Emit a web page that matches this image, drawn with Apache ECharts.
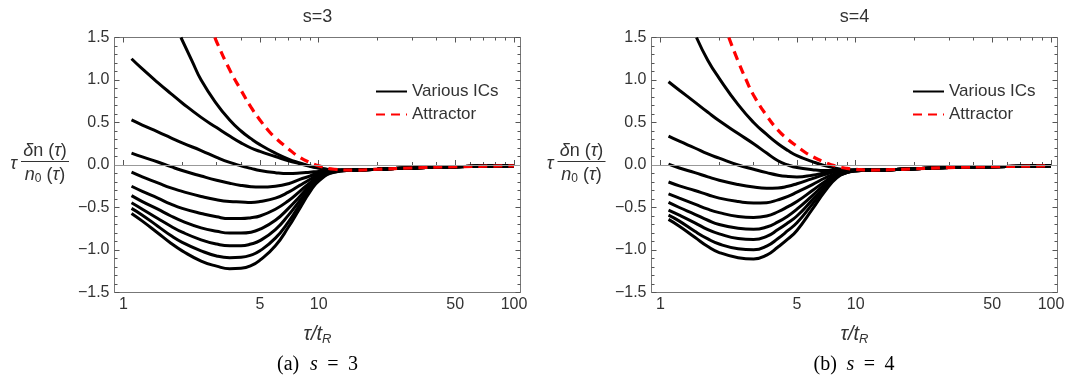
<!DOCTYPE html>
<html>
<head>
<meta charset="utf-8">
<script src="https://cdn.jsdelivr.net/npm/echarts@6/dist/echarts.min.js"></script>
<style>
  html, body { margin: 0; padding: 0; background: #fff; }
  #chart { width: 1073px; height: 379px; }
</style>
</head>
<body>
<div id="chart"></div>
<script>
// tau / t_R sample points shared by the IC curves
const tau = [1.1, 1.25, 1.5, 1.75, 2, 2.5, 3, 3.5, 4, 4.5, 5, 6, 7, 8, 9, 10, 12, 15, 20, 30, 50, 100];

// s = 3 : initial conditions (top curve enters the frame later, so it has its own tau)
const tauTop3 = [1.97, 2.25, 2.5, 3, 3.5, 4, 4.5, 5, 6, 7, 8, 9, 10, 12, 15, 20, 30, 50, 100];
const icTop3 = [1.5, 1.22, 1.0, 0.72, 0.53, 0.4, 0.31, 0.24, 0.14, 0.07, 0.025, -0.01, -0.035, -0.06, -0.06, -0.05, -0.035, -0.02, -0.01];
const ic3 = [
  [1.25, 1.13, 0.97, 0.84, 0.73, 0.56, 0.44, 0.34, 0.26, 0.2, 0.16, 0.1, 0.05, 0.015, -0.015, -0.035, -0.055, -0.06, -0.05, -0.035, -0.02, -0.01],
  [0.53, 0.47, 0.39, 0.32, 0.26, 0.17, 0.09, 0.03, -0.01, -0.04, -0.065, -0.09, -0.1, -0.095, -0.085, -0.075, -0.065, -0.06, -0.05, -0.035, -0.02, -0.01],
  [0.14, 0.095, 0.035, -0.02, -0.065, -0.13, -0.18, -0.215, -0.24, -0.255, -0.26, -0.25, -0.22, -0.17, -0.13, -0.09, -0.065, -0.06, -0.05, -0.035, -0.02, -0.01],
  [-0.085, -0.14, -0.21, -0.27, -0.31, -0.37, -0.41, -0.43, -0.435, -0.44, -0.43, -0.39, -0.32, -0.24, -0.17, -0.11, -0.07, -0.06, -0.05, -0.035, -0.02, -0.01],
  [-0.25, -0.31, -0.39, -0.46, -0.51, -0.57, -0.61, -0.63, -0.63, -0.62, -0.6, -0.52, -0.42, -0.31, -0.21, -0.13, -0.07, -0.06, -0.05, -0.035, -0.02, -0.01],
  [-0.36, -0.43, -0.52, -0.6, -0.66, -0.74, -0.78, -0.8, -0.8, -0.79, -0.755, -0.65, -0.51, -0.37, -0.24, -0.15, -0.075, -0.06, -0.05, -0.035, -0.02, -0.01],
  [-0.445, -0.52, -0.63, -0.72, -0.79, -0.88, -0.93, -0.95, -0.95, -0.93, -0.89, -0.76, -0.59, -0.42, -0.27, -0.16, -0.078, -0.06, -0.05, -0.035, -0.02, -0.01],
  [-0.51, -0.59, -0.72, -0.83, -0.91, -1.01, -1.07, -1.09, -1.085, -1.06, -1.01, -0.86, -0.67, -0.47, -0.3, -0.175, -0.082, -0.061, -0.05, -0.035, -0.02, -0.01],
  [-0.57, -0.66, -0.8, -0.92, -1.01, -1.13, -1.19, -1.22, -1.215, -1.185, -1.12, -0.95, -0.73, -0.51, -0.32, -0.19, -0.085, -0.062, -0.05, -0.035, -0.02, -0.01]
];
// s = 3 : attractor
const tauAtt3 = [2.94, 3, 3.5, 4, 4.5, 5, 5.5, 6, 7, 8, 9, 10, 12, 15, 20, 30, 50, 100];
const att3 = [1.5, 1.45, 1.12, 0.88, 0.68, 0.53, 0.41, 0.32, 0.19, 0.09, 0.03, -0.01, -0.05, -0.06, -0.05, -0.035, -0.02, -0.01];

// s = 4 : initial conditions
const tauTop4 = [1.53, 1.75, 2, 2.5, 3, 3.5, 4, 4.5, 5, 6, 7, 8, 9, 10, 12, 15, 20, 30, 50, 100];
const icTop4 = [1.5, 1.23, 1.02, 0.71, 0.5, 0.36, 0.25, 0.17, 0.11, 0.04, -0.01, -0.04, -0.055, -0.06, -0.06, -0.055, -0.045, -0.03, -0.02, -0.01];
const ic4 = [
  [0.98, 0.88, 0.74, 0.62, 0.52, 0.37, 0.25, 0.14, 0.05, 0.0, -0.03, -0.055, -0.065, -0.065, -0.065, -0.063, -0.06, -0.055, -0.045, -0.03, -0.02, -0.01],
  [0.34, 0.28, 0.2, 0.13, 0.08, 0.0, -0.05, -0.09, -0.12, -0.135, -0.14, -0.12, -0.09, -0.07, -0.062, -0.06, -0.06, -0.055, -0.045, -0.03, -0.02, -0.01],
  [0.01, -0.035, -0.09, -0.14, -0.18, -0.23, -0.26, -0.273, -0.27, -0.25, -0.22, -0.16, -0.11, -0.075, -0.062, -0.06, -0.06, -0.055, -0.045, -0.03, -0.02, -0.01],
  [-0.2, -0.245, -0.3, -0.35, -0.39, -0.43, -0.447, -0.443, -0.41, -0.37, -0.32, -0.23, -0.15, -0.095, -0.07, -0.062, -0.06, -0.055, -0.045, -0.03, -0.02, -0.01],
  [-0.34, -0.39, -0.46, -0.52, -0.56, -0.605, -0.617, -0.6, -0.55, -0.49, -0.43, -0.3, -0.19, -0.11, -0.075, -0.064, -0.06, -0.055, -0.045, -0.03, -0.02, -0.01],
  [-0.44, -0.5, -0.58, -0.65, -0.7, -0.745, -0.757, -0.73, -0.67, -0.6, -0.52, -0.36, -0.22, -0.12, -0.08, -0.065, -0.06, -0.055, -0.045, -0.03, -0.02, -0.01],
  [-0.53, -0.59, -0.68, -0.76, -0.81, -0.865, -0.877, -0.84, -0.76, -0.68, -0.6, -0.41, -0.25, -0.13, -0.085, -0.067, -0.06, -0.055, -0.045, -0.03, -0.02, -0.01],
  [-0.59, -0.66, -0.78, -0.87, -0.93, -0.985, -0.998, -0.955, -0.865, -0.77, -0.68, -0.46, -0.27, -0.14, -0.09, -0.07, -0.06, -0.055, -0.045, -0.03, -0.02, -0.01],
  [-0.64, -0.72, -0.85, -0.96, -1.03, -1.09, -1.105, -1.06, -0.965, -0.87, -0.77, -0.52, -0.3, -0.15, -0.09, -0.07, -0.06, -0.055, -0.045, -0.03, -0.02, -0.01]
];
// s = 4 : attractor
const tauAtt4 = [2.24, 2.5, 2.75, 3, 3.5, 4, 4.5, 5, 5.5, 6, 7, 8, 9, 10, 12, 15, 20, 30, 50, 100];
const att4 = [1.5, 1.22, 1.0, 0.82, 0.58, 0.41, 0.3, 0.22, 0.15, 0.1, 0.03, -0.015, -0.04, -0.05, -0.06, -0.055, -0.045, -0.03, -0.02, -0.01];

// ticks
const xMajor = [1, 5, 10, 50, 100];
const xMinor = [2, 3, 4, 6, 7, 8, 9, 20, 30, 40, 60, 70, 80, 90];
const panelTitles = ['s=3', 's=4'];
const captionTags = ['(a)', '(b)'];
const captionValues = ['3', '4'];

const SANS = '"Liberation Sans", Arial, sans-serif';
const SERIF = '"Liberation Serif", "Times New Roman", serif';
const INK = '#333';
const TICK = '#555';

const panels = [
  { left: 114.5, top: 37.5, width: 406, height: 255, legendLeft: 375 },
  { left: 651.5, top: 37.5, width: 406, height: 255, legendLeft: 912 }
];

const chart = echarts.init(document.getElementById('chart'));

const xAxis = [];
const yAxis = [];
const series = [];
const graphic = [];

function xAx(p, pos, ticks, len, labels) {
  return {
    gridIndex: p, type: 'log', min: 0.9, max: 108, position: pos,
    axisLine: { show: false }, splitLine: { show: false },
    axisTick: { show: true, inside: true, length: len, customValues: ticks, lineStyle: { color: TICK, width: 1 } },
    axisLabel: labels
      ? { show: true, customValues: ticks, formatter: (v) => String(Math.round(v)), fontSize: 16, color: INK, fontFamily: SANS, margin: 4 }
      : { show: false }
  };
}

function yAx(p, pos, labels) {
  return {
    gridIndex: p, type: 'value', min: -1.5, max: 1.5, interval: 0.5, position: pos,
    axisLine: { show: false }, splitLine: { show: false },
    axisTick: { show: true, inside: true, length: 5, lineStyle: { color: TICK, width: 1 } },
    minorTick: { show: true, splitNumber: 5, length: 3, lineStyle: { color: TICK, width: 1 } },
    axisLabel: labels
      ? { show: true, formatter: (v) => v.toFixed(1).replace('-', '\u2212'), fontSize: 16, color: INK, fontFamily: SANS, margin: 5 }
      : { show: false }
  };
}

function pairs(xs, ys) {
  return xs.map((t, i) => [t, ys[i]]);
}

function icLine(p, xs, ys) {
  return {
    type: 'line', name: 'Various ICs', xAxisIndex: p * 4, yAxisIndex: p * 2,
    data: pairs(xs, ys), symbol: 'none', showSymbol: false, smooth: 0.5,
    lineStyle: { color: '#000', width: 3 }, itemStyle: { color: '#000' },
    silent: true, z: 2
  };
}

const sets = [
  { top: [tauTop3, icTop3], ics: ic3, att: [tauAtt3, att3] },
  { top: [tauTop4, icTop4], ics: ic4, att: [tauAtt4, att4] }
];

panels.forEach((g, p) => {
  xAxis.push(xAx(p, 'bottom', xMajor, 5, true));
  xAxis.push(xAx(p, 'bottom', xMinor, 3, false));
  xAxis.push(xAx(p, 'top', xMajor, 5, false));
  xAxis.push(xAx(p, 'top', xMinor, 3, false));
  yAxis.push(yAx(p, 'left', true));
  yAxis.push(yAx(p, 'right', false));

  const s = sets[p];
  const first = icLine(p, s.top[0], s.top[1]);
  first.markLine = {
    silent: true, symbol: ['none', 'none'], label: { show: false },
    lineStyle: { color: '#999', width: 1, type: 'solid' },
    data: [{ yAxis: 0 }], animation: false
  };
  series.push(first);
  s.ics.forEach((ys) => series.push(icLine(p, tau, ys)));
  series.push({
    type: 'line', name: 'Attractor', xAxisIndex: p * 4, yAxisIndex: p * 2,
    data: pairs(s.att[0], s.att[1]), symbol: 'none', showSymbol: false, smooth: 0.5,
    lineStyle: { color: '#ff0000', width: 3.2, type: [9, 6] }, itemStyle: { color: '#ff0000' },
    silent: true, z: 4
  });

  const cx = g.left + g.width / 2;
  const dx = p * 536.5;

  // panel title
  graphic.push({
    type: 'text', x: cx, y: 17,
    style: { text: panelTitles[p], fill: INK, font: '18px ' + SANS, textAlign: 'center', textVerticalAlign: 'middle', align: 'center', verticalAlign: 'middle' }
  });
  // x axis name  tau / t_R
  graphic.push({
    type: 'text', x: cx, y: 334,
    style: {
      text: '{i|\u03c4/t}{sub|R}', fill: INK, textAlign: 'center', textVerticalAlign: 'middle', align: 'center', verticalAlign: 'middle',
      rich: {
        i: { fontSize: 20, fontStyle: 'italic', fontFamily: SANS, fill: INK },
        sub: { fontSize: 13, fontStyle: 'italic', fontFamily: SANS, fill: INK, padding: [10, 0, 0, 0] }
      }
    }
  });
  // y axis name: tau * delta n(tau) / n0(tau)
  graphic.push({
    type: 'text', x: 13.5 + dx, y: 164,
    style: { text: '\u03c4', fill: INK, font: 'italic 18px ' + SANS, textAlign: 'center', textVerticalAlign: 'middle', align: 'center', verticalAlign: 'middle' }
  });
  graphic.push({
    type: 'text', x: 45 + dx, y: 151,
    style: {
      text: '{i|\u03b4}{r|n (}{i|\u03c4}{r|)}', fill: INK, textAlign: 'center', textVerticalAlign: 'middle', align: 'center', verticalAlign: 'middle',
      rich: {
        i: { fontSize: 18, fontStyle: 'italic', fontFamily: SANS, fill: INK },
        r: { fontSize: 18, fontFamily: SANS, fill: INK }
      }
    }
  });
  graphic.push({
    type: 'line', shape: { x1: 21 + dx, y1: 161.5, x2: 69 + dx, y2: 161.5 },
    style: { stroke: INK, lineWidth: 1.2 }
  });
  graphic.push({
    type: 'text', x: 45 + dx, y: 175,
    style: {
      text: '{i|n}{sub|0}{r| (}{i|\u03c4}{r|)}', fill: INK, textAlign: 'center', textVerticalAlign: 'middle', align: 'center', verticalAlign: 'middle',
      rich: {
        i: { fontSize: 18, fontStyle: 'italic', fontFamily: SANS, fill: INK },
        r: { fontSize: 18, fontFamily: SANS, fill: INK },
        sub: { fontSize: 12, fontFamily: SANS, fill: INK, padding: [8, 0, 0, 0] }
      }
    }
  });
  // caption  (a) s = 3
  const cap = [
    { t: captionTags[p], x: 277 + dx, italic: false, align: 'left' },
    { t: 's', x: 310 + dx, italic: true, align: 'left' },
    { t: '=', x: 333 + dx, italic: false, align: 'center' },
    { t: captionValues[p], x: 348 + dx, italic: false, align: 'left' }
  ];
  cap.forEach((c) => {
    graphic.push({
      type: 'text', x: c.x, y: 365,
      style: { text: c.t, fill: '#000', font: (c.italic ? 'italic ' : '') + '20px ' + SERIF, textAlign: c.align, textVerticalAlign: 'middle', align: c.align, verticalAlign: 'middle' }
    });
  });
});

chart.setOption({
  animation: false,
  backgroundColor: '#fff',
  grid: panels.map((g) => ({
    left: g.left, top: g.top, width: g.width, height: g.height,
    show: true, borderColor: '#777', borderWidth: 1, backgroundColor: 'transparent',
    containLabel: false, outerBoundsMode: 'none'
  })),
  legend: panels.map((g) => ({
    data: ['Various ICs', 'Attractor'], orient: 'vertical', left: g.legendLeft, top: 83,
    padding: 0, itemWidth: 31, itemHeight: 14, itemGap: 6, selectedMode: false,
    itemStyle: { color: 'rgba(0,0,0,0)', borderColor: 'rgba(0,0,0,0)', borderWidth: 0, opacity: 0 },
    textStyle: { fontSize: 17, color: INK, fontFamily: SANS }
  })),
  xAxis: xAxis,
  yAxis: yAxis,
  series: series,
  graphic: graphic
});
</script>
</body>
</html>
